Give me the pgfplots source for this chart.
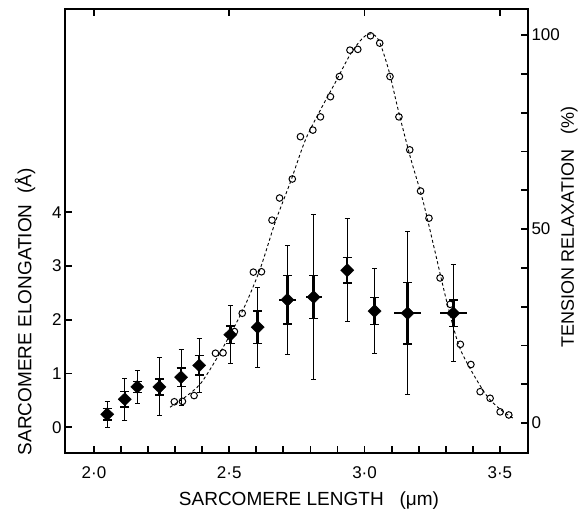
\documentclass[border=0pt]{standalone}
\usepackage{pgfplots}
\pgfplotsset{compat=1.18}
\usepackage{pgfplotstable}
\usepackage{fontspec}
\setmainfont{Liberation Sans}

% sarcomere elongation: x, mean, outer bar (SD), inner bar (SEM)
\pgfplotstableread{
x     y     sd    sem
2.049 0.24  0.24  0.11
2.114 0.52  0.39  0.14
2.160 0.75  0.30  0.10
2.242 0.75  0.54  0.15
2.322 0.93  0.52  0.17
2.389 1.15  0.50  0.18
2.504 1.72  0.54  0.16
2.605 1.86  0.74  0.30
2.715 2.37  1.02  0.45
2.812 2.42  1.53  0.40
2.936 2.92  0.96  0.24
3.037 2.16  0.79  0.25
3.159 2.12  1.52  0.57
3.328 2.12  0.90  0.25
}\elong

% horizontal bars
\pgfplotstableread{
x     y     xe
2.715 2.37  0.030
2.812 2.42  0.030
3.159 2.12  0.050
3.328 2.12  0.049
}\elongx

% tension relaxation (%)
\pgfplotstableread{
x     y
2.297 5.5
2.327 5.6
2.370 7.1
2.449 18.0
2.477 18.1
2.519 23.6
2.548 28.3
2.589 38.9
2.619 39.0
2.658 52.3
2.686 58.0
2.733 62.9
2.763 73.8
2.809 75.5
2.837 78.9
2.874 84.1
2.907 89.3
2.946 96.1
2.975 96.3
3.022 99.8
3.056 97.9
3.094 89.3
3.127 78.9
3.167 70.4
3.207 59.8
3.238 52.8
3.279 37.4
3.316 30.6
3.354 20.3
3.393 15.1
3.427 8.1
3.464 6.4
3.501 2.9
3.533 2.1
}\tension

% dashed curve drawn through the points
\pgfplotstableread{
x     y
2.281 4.1
2.337 6.7
2.393 10.1
2.448 16.0
2.504 22.9
2.559 30.4
2.615 39.9
2.670 51.8
2.726 62.1
2.781 72.9
2.837 80.7
2.893 87.9
2.948 95.1
2.993 99.2
3.022 100.3
3.052 98.7
3.089 91.0
3.126 80.2
3.170 68.3
3.215 57.5
3.259 44.6
3.304 31.2
3.348 20.1
3.393 13.7
3.452 7.0
3.504 3.4
3.548 1.3
}\fitcurve

\newcommand\lblfont{\fontsize{19bp}{19bp}\selectfont}

\pgfplotsset{
  common/.style={
    at={(0,0)}, anchor=south west,
    scale only axis, width=463bp, height=444bp,
    xmin=1.893, xmax=3.604,
    axis line style={-, line width=2bp, line cap=rect},
    tick align=inside, major tick length=7bp,
    every tick/.style={line width=1.8bp, black},
    tick label style={font=\fontsize{17bp}{17bp}\selectfont},
  }
}

\begin{document}
\begin{tikzpicture}
\path[use as bounding box] (-65bp,-60bp) rectangle (517bp,453bp);

% right axis: tension relaxation
\begin{axis}[
  common,
  ymin=-7.7, ymax=106.7,
  axis x line*=top, axis y line*=right,
  xtick={2,2.5,3,3.5}, xticklabels={},
  ytick={0,10,20,30,40,50,60,70,80,90,100},
  yticklabels={0,,,,,50,,,,,100},
  ylabel={TENSION RELAXATION\ \ \ (\%)},
  every axis y label/.style={at={(axis description cs:1.089,0.509)}, rotate=90, anchor=center, font=\fontsize{18bp}{18bp}\selectfont},
]
\addplot[black, line width=0.9bp, dash pattern=on 3bp off 2.5bp, smooth, tension=0.5] table {\fitcurve};
\addplot[only marks, mark=o, mark size=3.3bp, mark options={line width=1bp, black}] table {\tension};
\end{axis}

% left axis: sarcomere elongation
\begin{axis}[
  common,
  ymin=-0.48, ymax=7.78,
  axis x line*=bottom, axis y line*=left,
  xtick={2.0,2.1,2.2,2.3,2.4,2.5,2.6,2.7,2.8,2.9,3.0,3.1,3.2,3.3,3.4,3.5},
  xticklabels={2·0,,,,,2·5,,,,,3·0,,,,,3·5},
  xticklabel style={yshift=-10bp},
  ytick={0,1,2,3,4}, yticklabels={0,1,2,3,4},
  xlabel={SARCOMERE LENGTH\ \ \ (μm)},
  ylabel={SARCOMERE ELONGATION\ \ (Å)},
  every axis x label/.style={at={(axis description cs:0.527,-0.107)}, anchor=center, font=\lblfont},
  every axis y label/.style={at={(axis description cs:-0.0864,0.318)}, rotate=90, anchor=center, font=\lblfont},
]
\addplot[only marks, mark=none, black,
  error bars/.cd, y dir=both, y explicit,
  error bar style={line width=0.9bp, black},
  error mark options={rotate=90, line width=0.9bp, mark size=2.5bp, black}]
  table[x=x, y=y, y error=sd] {\elong};
\addplot[only marks, mark=none, black,
  error bars/.cd, y dir=both, y explicit,
  error bar style={line width=2.4bp, black},
  error mark options={rotate=90, line width=1.5bp, mark size=4.5bp, black}]
  table[x=x, y=y, y error=sem] {\elong};
\addplot[only marks, mark=none, black,
  error bars/.cd, x dir=both, x explicit,
  error bar style={line width=2.2bp, black},
  error mark=none]
  table[x=x, y=y, x error=xe] {\elongx};
\addplot[only marks, mark=diamond*, mark size=6.5bp, mark options={xscale=1.35, fill=black, draw=black}] table[x=x, y=y] {\elong};
\end{axis}
\end{tikzpicture}
\end{document}
